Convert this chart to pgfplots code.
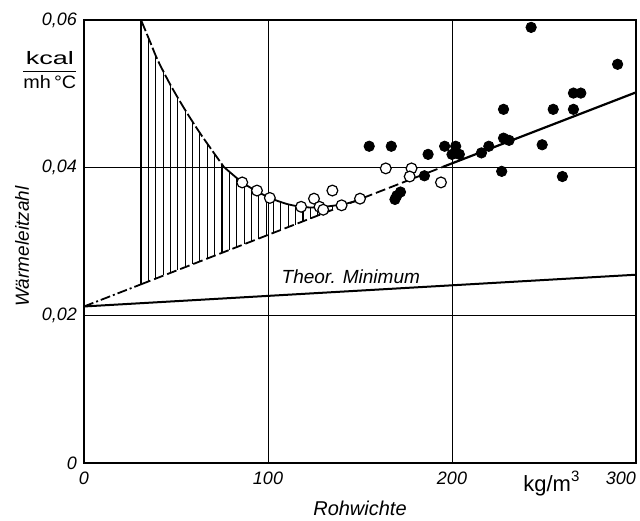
\documentclass[border=0pt]{standalone}
\usepackage{pgfplots}
\pgfplotsset{compat=1.18}
\usepackage{fontspec}
\setmainfont{Liberation Sans}
\usepackage{graphicx}

\pgfplotstableread{
x y
86 0.0380
94 0.0369
101 0.0359
118 0.0347
125 0.0358
128 0.0347
130 0.0343
135 0.0369
140 0.0349
150 0.0358
164 0.0399
178 0.0399
177 0.0388
194 0.0380
}\opendata

\pgfplotstableread{
x y
155 0.0429
167 0.0429
169 0.0357
170 0.0362
172 0.0367
185 0.0389
187 0.0418
196 0.0429
200 0.0418
202 0.0429
204 0.0418
216 0.0420
220 0.0429
227 0.0395
228 0.0479
228 0.0440
231 0.0437
243 0.0590
249 0.0431
255 0.0479
260 0.0388
266 0.0479
266 0.0501
270 0.0501
290 0.0540
}\filleddata

\begin{document}
\begin{tikzpicture}
\begin{axis}[
  name=ax,
  scale only axis,
  width=276pt, height=221.5pt,
  xmin=0, xmax=300, ymin=0, ymax=0.06,
  xtick={0,100,200,300},
  ytick={0,0.02,0.04,0.06},
  xticklabels={0,100,200,\llap{300}},
  yticklabels={0,{0,02},{0,04},{0,06}},
  major tick length=0pt,
  grid=major,
  grid style={black, line width=0.5pt},
  axis line style={line width=0.8pt},
  tick label style={font=\itshape\fontsize{9}{10}\selectfont},
  xticklabel style={yshift=-1pt},
  scaled y ticks=false,
  xlabel={Rohwichte},
  ylabel={Wärmeleitzahl},
  every axis x label/.style={at={(axis description cs:0.5,-0.1016)}, anchor=center, font=\itshape\fontsize{10}{11}\selectfont},
  every axis y label/.style={at={(axis description cs:-0.112,0.488)}, anchor=center, rotate=90, font=\itshape\fontsize{9.5}{10}\selectfont},
  clip=false,
  unbounded coords=jump,
]
% hatching: vertical strokes from the upper curve down to the straight line
\addplot[black, line width=0.55pt] coordinates {
(31,0.0600) (31,0.0242) (33,nan)
(35,0.0576) (35,0.0246) (37,nan)
(39,0.0552) (39,0.0250) (41,nan)
(43,0.0531) (43,0.0254) (45,nan)
(47,0.0512) (47,0.0257) (49,nan)
(51,0.0495) (51,0.0261) (53,nan)
(55,0.0478) (55,0.0265) (57,nan)
(59,0.0462) (59,0.0269) (61,nan)
(63,0.0447) (63,0.0273) (65,nan)
(67,0.0432) (67,0.0277) (69,nan)
(71,0.0418) (71,0.0281) (73,nan)
(75,0.0404) (75,0.0285) (77,nan)
(79,0.0394) (79,0.0288) (81,nan)
(83,0.0386) (83,0.0292) (85,nan)
(87,0.0378) (87,0.0296) (89,nan)
(91,0.0372) (91,0.0300) (93,nan)
(95,0.0367) (95,0.0304) (97,nan)
(99,0.0361) (99,0.0308) (101,nan)
(103,0.0357) (103,0.0312) (105,nan)
(107,0.0353) (107,0.0315) (109,nan)
(111,0.0350) (111,0.0319) (113,nan)
(115,0.0348) (115,0.0323) (117,nan)
(119,0.0347) (119,0.0327) (121,nan)
(123,0.0346) (123,0.0331) (125,nan)
(127,0.0346) (127,0.0335) (129,nan)
(131,0.0347) (131,0.0339) (133,nan)
(135,0.0348) (135,0.0343) (137,nan)
(139,0.0350) (139,0.0346)
};

% theoretical minimum
\addplot[black, line width=1pt] coordinates {(0,0.0212) (300,0.0255)};

% main line
\addplot[black, line width=0.9pt, dash pattern=on 5pt off 1.5pt on 1pt off 1.5pt] coordinates {(0,0.0212) (31,0.0242)};
\addplot[black, line width=0.9pt, dash pattern=on 5pt off 2pt] coordinates {(31,0.0242) (195,0.0401)};
\addplot[black, line width=1.1pt] coordinates {(195,0.0401) (300,0.0502)};

% curve
\addplot[black, line width=0.9pt, smooth, dash pattern=on 6pt off 1.5pt] table[x=x,y=y] {
x y
31 0.0600
36 0.0570
40 0.0546
47 0.0512
55 0.0478
63 0.0447
70 0.0422
76 0.0401
};
\addplot[black, line width=0.9pt, smooth] table[x=x,y=y] {
x y
76 0.0401
86 0.0380
94 0.0368
101 0.0359
110 0.0351
118 0.0347
126 0.0346
134 0.0348
142 0.0351
151 0.0357
};

% measured points
\addplot[only marks, mark=*, mark size=2.7pt, mark options={fill=white, draw=black, line width=0.6pt}] table[x=x,y=y] {\opendata};
\addplot[only marks, mark=*, mark size=2.6pt, mark options={fill=black, draw=black}] table[x=x,y=y] {\filleddata};

\node[font=\itshape\fontsize{9.5}{10}\selectfont] at (axis cs:145,0.0252) {Theor. Minimum};
\node[font=\fontsize{11}{12}\selectfont, anchor=north, inner sep=0pt] at (axis cs:254,0) [yshift=-4pt]
  {kg/m\raisebox{0.42em}{\fontsize{7.5}{8}\selectfont 3}};
\node[font=\fontsize{9}{10}\selectfont, inner sep=0pt] at (rel axis cs:-0.062,0.887)
  {$\displaystyle\frac{\mbox{\scalebox{1.5}[1]{kcal}}}{\mbox{\scalebox{1.1}[1]{mh\,°C}}}$};
\end{axis}
\pgfresetboundingbox
\path ([xshift=-42pt,yshift=-29pt]ax.south west) rectangle ([xshift=2pt,yshift=10pt]ax.north east);
\end{tikzpicture}
\end{document}
